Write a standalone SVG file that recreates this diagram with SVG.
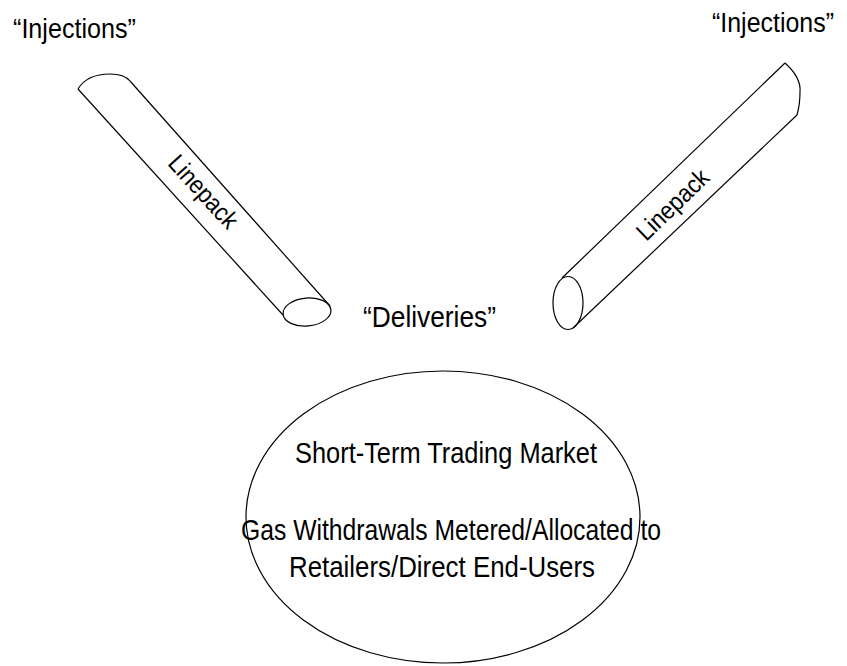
<svg xmlns="http://www.w3.org/2000/svg" width="847" height="666" viewBox="0 0 847 666">
<style>
.ln{fill:none;stroke:#000;stroke-width:1.2}
.t{font-family:"Liberation Sans",Arial,sans-serif;fill:#000}
</style>
<rect width="847" height="666" fill="#fff"/>
<g id="injections-left"><text class="t" x="13" y="38" font-size="28" textLength="123" lengthAdjust="spacingAndGlyphs">“Injections”</text></g>
<g id="injections-right"><text class="t" x="712" y="32" font-size="27" textLength="122" lengthAdjust="spacingAndGlyphs">“Injections”</text></g>
<g id="pipe-left">
<path class="ln" d="M78,89 C84,79 96,74 110,74 C120,74 126,76 130,81"/>
<line class="ln" x1="78" y1="89" x2="283" y2="315"/>
<line class="ln" x1="130" y1="81" x2="330" y2="306"/>
<ellipse class="ln" cx="307" cy="312" rx="24" ry="14" transform="rotate(-5 307 312)"/>
<text class="t" x="0" y="0" font-size="25" text-anchor="middle" textLength="90" lengthAdjust="spacingAndGlyphs" transform="translate(203,192) rotate(47.5) translate(0,8)">Linepack</text>
</g>
<g id="pipe-right">
<path class="ln" d="M785,63 C795,72 801,82 800,92 C800,102 799,108 797,115"/>
<line class="ln" x1="785" y1="63" x2="562" y2="278"/>
<line class="ln" x1="797" y1="115" x2="573" y2="328"/>
<ellipse class="ln" cx="568" cy="303" rx="15" ry="26.5"/>
<text class="t" x="0" y="0" font-size="25" text-anchor="middle" textLength="90" lengthAdjust="spacingAndGlyphs" transform="translate(673,205) rotate(-44) translate(0,8)">Linepack</text>
</g>
<g id="deliveries"><text class="t" x="363" y="327" font-size="30" textLength="133" lengthAdjust="spacingAndGlyphs">“Deliveries”</text></g>
<g id="market">
<ellipse class="ln" cx="443" cy="517" rx="197" ry="146"/>
<text class="t" x="446" y="463" font-size="30" text-anchor="middle" textLength="302" lengthAdjust="spacingAndGlyphs">Short-Term Trading Market</text>
<text class="t" x="451" y="540" font-size="30" text-anchor="middle" textLength="420" lengthAdjust="spacingAndGlyphs">Gas Withdrawals Metered/Allocated to</text>
<text class="t" x="442" y="577" font-size="30" text-anchor="middle" textLength="306" lengthAdjust="spacingAndGlyphs">Retailers/Direct End-Users</text>
</g>
<g id="connectors"></g>
</svg>
